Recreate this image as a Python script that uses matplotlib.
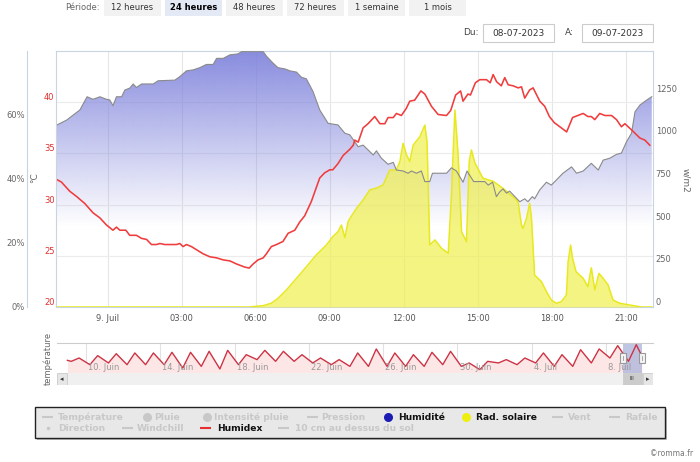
import numpy as np
import matplotlib
matplotlib.use('Agg')
import matplotlib.pyplot as plt
import matplotlib.transforms as mtransforms
from matplotlib.patches import Rectangle

plt.rcParams['font.family'] = ['DejaVu Sans']

# ---- main chart data, hours from 9 Juil 00:00 ----
hum_hours = [-2.11, -1.67, -1.13, -0.84, -0.6, -0.32, -0.05, 0.08, 0.21, 0.35,
             0.56, 0.69, 0.89, 1.03, 1.16, 1.37, 1.84, 2.04, 2.72, 2.92,
             3.19, 3.46, 3.73, 4.0, 4.27, 4.41, 4.68, 4.95, 5.28, 5.42,
             6.3, 6.43, 6.7, 6.9, 7.18, 7.38, 7.65, 7.85, 8.05, 8.32,
             8.59, 8.93, 9.33, 9.61, 9.81, 10.15, 10.35, 10.76, 10.89, 11.09,
             11.36, 11.57, 11.7, 11.97, 12.17, 12.31, 12.51, 12.71, 12.85, 13.05,
             13.16, 13.73, 13.93, 14.13, 14.4, 14.56, 14.83, 15.28, 15.42, 15.6,
             15.75, 15.89, 16.02, 16.16, 16.29, 16.5, 16.7, 16.9, 17.03, 17.21,
             17.3, 17.51, 17.78, 17.98, 18.45, 18.8, 19.0, 19.27, 19.6, 19.88,
             20.08, 20.35, 20.62, 20.82, 21.03, 21.23, 21.37, 21.57, 21.85, 22.05]
hum_values = [56.7, 58.4, 61.6, 65.7, 64.9, 65.7, 64.9, 64.7, 62.9, 65.7,
              65.7, 67.8, 68.4, 69.7, 68.6, 69.7, 69.7, 70.7, 70.9, 72.0,
              73.8, 74.1, 74.8, 75.8, 75.8, 77.7, 77.7, 78.8, 79.1, 79.8,
              79.8, 78.4, 76.2, 74.8, 74.4, 73.8, 73.4, 71.8, 71.3, 67.3,
              61.6, 57.4, 56.9, 54.3, 53.8, 50.1, 50.6, 47.5, 48.8, 46.5,
              44.6, 45.2, 42.8, 42.5, 41.8, 42.5, 41.8, 42.5, 39.2, 39.2,
              41.8, 41.8, 43.5, 42.5, 39.0, 42.5, 39.2, 39.2, 38.1, 39.0,
              34.5, 36.0, 36.9, 35.6, 36.2, 34.5, 32.9, 33.8, 32.9, 34.5,
              33.8, 36.6, 39.0, 38.1, 41.8, 43.8, 41.8, 42.5, 44.9, 42.8,
              45.9, 46.5, 47.7, 48.1, 51.7, 54.3, 61.0, 63.1, 64.7, 65.7]

hx_hours = [-2.11, -1.88, -1.54, -1.27, -0.93, -0.6, -0.32, -0.05, 0.21, 0.35,
            0.49, 0.73, 0.89, 1.16, 1.37, 1.57, 1.77, 1.97, 2.11, 2.31,
            2.78, 2.92, 3.05, 3.19, 3.39, 3.59, 3.86, 4.14, 4.41, 4.68,
            4.95, 5.22, 5.55, 5.73, 5.89, 6.09, 6.3, 6.43, 6.63, 6.84,
            7.1, 7.31, 7.58, 7.78, 7.98, 8.25, 8.59, 8.79, 9.0, 9.12,
            9.33, 9.54, 9.81, 9.95, 10.01, 10.15, 10.35, 10.55, 10.82, 11.03,
            11.23, 11.36, 11.57, 11.7, 11.9, 12.1, 12.24, 12.44, 12.69, 12.85,
            13.12, 13.39, 13.73, 13.9, 14.1, 14.3, 14.4, 14.6, 14.7, 14.9,
            15.08, 15.35, 15.5, 15.62, 15.76, 15.95, 16.09, 16.23, 16.43, 16.63,
            16.77, 16.9, 17.1, 17.24, 17.51, 17.71, 17.9, 18.1, 18.38, 18.6,
            18.84, 19.05, 19.27, 19.46, 19.6, 19.74, 19.94, 20.15, 20.42, 20.62,
            20.82, 20.96, 21.23, 21.57, 21.77, 21.97]
hx_values = [32.5, 32.2, 31.3, 30.8, 30.1, 29.2, 28.7, 28.0, 27.5, 27.8,
             27.5, 27.5, 27.0, 27.0, 26.7, 26.6, 26.1, 26.1, 26.2, 26.1,
             26.1, 26.2, 25.9, 26.1, 25.9, 25.6, 25.2, 24.9, 24.8, 24.6,
             24.5, 24.2, 23.9, 23.8, 24.2, 24.6, 24.8, 25.2, 25.9, 26.1,
             26.4, 27.2, 27.5, 28.3, 28.9, 30.3, 32.6, 33.1, 33.4, 33.4,
             34.0, 34.8, 35.4, 35.8, 36.3, 36.1, 37.5, 37.9, 38.6, 37.9,
             37.9, 38.5, 38.5, 38.9, 38.7, 39.4, 40.1, 40.2, 41.1, 40.8,
             39.6, 38.8, 38.7, 39.2, 40.7, 41.1, 40.1, 40.8, 40.7, 41.9,
             42.2, 42.2, 41.9, 42.7, 42.0, 41.6, 42.4, 41.7, 41.6, 41.4,
             41.5, 40.4, 41.2, 41.4, 40.1, 39.6, 38.6, 38.0, 37.5, 37.1,
             38.5, 38.7, 38.9, 38.6, 38.6, 38.3, 38.9, 38.7, 38.7, 38.3,
             37.6, 37.9, 37.3, 36.5, 36.3, 35.8]

rad_hours = [-2.11, 5.73, 6.3, 6.63, 6.9, 7.24, 7.65, 8.05, 8.45, 8.86,
             9.12, 9.33, 9.47, 9.61, 9.74, 9.81, 10.08, 10.35, 10.62, 10.89,
             11.16, 11.43, 11.7, 11.84, 11.97, 12.11, 12.24, 12.38, 12.65, 12.85,
             12.94, 13.05, 13.26, 13.53, 13.8, 13.93, 14.07, 14.2, 14.34, 14.54,
             14.65, 14.74, 14.88, 15.21, 15.62, 16.02, 16.43, 16.63, 16.77, 16.83,
             16.97, 17.1, 17.17, 17.3, 17.44, 17.58, 17.78, 17.98, 18.18, 18.38,
             18.59, 18.66, 18.76, 18.84, 18.98, 19.27, 19.46, 19.6, 19.74, 19.91,
             20.08, 20.28, 20.48, 20.75, 21.3, 21.64, 22.05]
rad_values = [0, 0, 8, 22, 51, 100, 168, 236, 305, 363,
              412, 441, 480, 406, 500, 518, 578, 627, 686, 697,
              715, 803, 803, 852, 959, 891, 852, 949, 998, 1066,
              969, 363, 393, 344, 315, 656, 1154, 891, 441, 383,
              852, 920, 844, 754, 737, 695, 646, 617, 480, 460,
              518, 607, 530, 187, 168, 148, 90, 41, 22, 31,
              70, 266, 363, 285, 207, 168, 119, 230, 100, 197,
              168, 129, 41, 22, 8, 0, 0]

hour_ticks = [0, 3, 6, 9, 12, 15, 18, 21]
hour_labels = ['9. Juil', '03:00', '06:00', '09:00', '12:00', '15:00', '18:00', '21:00']
hum_ticks = [0, 20, 40, 60]
temp_ticks = [20, 25, 30, 35, 40]
rad_ticks = [0, 250, 500, 750, 1000, 1250]

# ---- navigator data: days from 10 Juin, daily humidex low / high ----
nav_days = list(range(-1, 30))
nav_low = [23.5, 19.4, 21.5, 19.4, 19.4, 19.4, 15.3, 17.3, 14.1, 19.4,
           25.6, 23.5, 23.5, 21.5, 19.4, 17.3, 17.3, 17.3, 17.3, 17.3,
           19.4, 17.3, 13.3, 21.5, 19.4, 21.5, 17.3, 17.3, 21.5, 27.6, 23.5]
nav_high = [27.6, 30.5, 32.9, 33.8, 33.8, 34.6, 34.6, 35.8, 37.0, 31.7,
            37.0, 35.8, 31.7, 27.6, 25.6, 33.8, 38.7, 33.8, 31.7, 34.6,
            35.8, 21.5, 23.5, 25.6, 27.6, 33.8, 31.7, 37.8, 38.7, 42.8, 44.0]
nav_first, nav_last = 24.7, 30.5
nav_tick_days = [0, 4, 8, 12, 16, 20, 24, 28]
nav_tick_labels = ['10. Juin', '14. Juin', '18. Juin', '22. Juin',
                   '26. Juin', '30. Juin', '4. Juil', '8. Juil']
sel_start, sel_end = 28.9, 29.92

periods = ['12 heures', '24 heures', '48 heures', '72 heures', '1 semaine', '1 mois']
selected_period = '24 heures'

W, H = 700, 462
fig = plt.figure(figsize=(W / 100, H / 100), dpi=100)


def box(x0, y0, x1, y1):
    return [x0 / W, 1 - y1 / H, (x1 - x0) / W, (y1 - y0) / H]


# ---- page furniture (buttons, dates, legend) in pixel coords ----
ui = fig.add_axes([0, 0, 1, 1])
ui.set_xlim(0, W)
ui.set_ylim(H, 0)
ui.axis('off')

ui.text(65, 7.5, 'Période:', fontsize=6, color='#666666', va='center')
for i, p in enumerate(periods):
    x0 = 104 + i * 61
    sel = p == selected_period
    ui.add_patch(Rectangle((x0, 0), 57, 16, fc='#e4e9f6' if sel else '#f2f2f2', ec='none'))
    ui.text(x0 + 28.5, 7.5, p, ha='center', va='center', fontsize=6,
            color='#000000' if sel else '#333333', fontweight='bold' if sel else 'normal')

ui.text(463, 32.5, 'Du:', fontsize=6.5, color='#444444', va='center')
ui.add_patch(Rectangle((483, 24), 71, 18, fc='white', ec='#cccccc', lw=0.8))
ui.text(518.5, 33, '08-07-2023', fontsize=6.5, color='#333333', ha='center', va='center')
ui.text(565, 32.5, 'A:', fontsize=6.5, color='#444444', va='center')
ui.add_patch(Rectangle((582, 24), 71, 18, fc='white', ec='#cccccc', lw=0.8))
ui.text(617.5, 33, '09-07-2023', fontsize=6.5, color='#333333', ha='center', va='center')

# legend box
ui.add_patch(Rectangle((37, 409), 630, 31, fc='#bbbbbb', ec='none'))
ui.add_patch(Rectangle((35, 407), 630, 31, fc='#e8e8e8', ec='#222222', lw=1))
off = '#c8c8c8'
legend_items = [
    # kind, x symbol, x text, y, label, color, active
    ('line', 42, 58, 417, 'Température', off, False),
    ('dot', 147, 154, 417, 'Pluie', off, False),
    ('dot', 207, 214, 417, 'Intensité pluie', off, False),
    ('line', 307, 321, 417, 'Pression', off, False),
    ('dot', 388, 398, 417, 'Humidité', '#1c1cb4', True),
    ('dot', 466, 476, 417, 'Rad. solaire', '#eeee10', True),
    ('line', 552, 568, 417, 'Vent', off, False),
    ('line', 609, 625, 417, 'Rafale', off, False),
    ('small', 48, 58, 428, 'Direction', off, False),
    ('line', 122, 137, 428, 'Windchill', off, False),
    ('line', 200, 217, 428, 'Humidex', '#e83030', True),
    ('line', 278, 295, 428, '10 cm au dessus du sol', off, False),
]
for kind, xs, xt, y, label, col, active in legend_items:
    if kind == 'line':
        ui.plot([xs, xs + 11], [y, y], color=col, lw=1.5, solid_capstyle='butt')
    elif kind == 'dot':
        ui.plot([xs], [y], 'o', color=col, ms=6.5, mec='none')
    else:
        ui.plot([xs], [y], 'o', color=col, ms=2.5, mec='none')
    ui.text(xt, y + 0.5, label, fontsize=6.6, fontweight='bold', va='center',
            color='#111111' if active else off)

ui.text(693, 453, '©romma.fr', fontsize=5.5, color='#777777', ha='right', va='center')
ui.text(35, 178, '°C', fontsize=6.5, color='#666666', rotation=90, ha='center', va='center')
ui.text(686, 180, 'w/m2', fontsize=6.5, color='#666666', rotation=270, ha='center', va='center')
ui.text(48, 358, 'température', fontsize=6, color='#666666', rotation=90, ha='center', va='center')

# ---- main chart ----
frame = '#c8d4e0'
ax_h = fig.add_axes(box(56, 51, 653, 307))
ax_r = ax_h.twinx()
ax_hl = ax_h.twinx()
ax_t = ax_h.twinx()

x0, x1 = -2.1, 22.1
ax_h.set_xlim(x0, x1)
ax_h.set_ylim(0, 80)

# grid lines (vertical on hours, horizontal on temperature ticks)
for h in hour_ticks:
    ax_h.axvline(h, color='#e6e6e6', lw=0.8, zorder=0)
for t in temp_ticks[1:]:
    ax_h.axhline((t - 20) / 25 * 80, color='#ececec', lw=0.8, zorder=0)

# humidity area with vertical gradient (lavender at top, fading to white)
n = 256
levels = np.linspace(0, 80, n)
grad = np.zeros((n, 1, 4))
grad[..., 0] = 126 / 255
grad[..., 1] = 130 / 255
grad[..., 2] = 219 / 255
grad[:, 0, 3] = 0.92 * np.clip((levels - 25) / (80 - 25), 0, 1)
poly = ax_h.fill_between(hum_hours, hum_values, 0, facecolor='none', edgecolor='none')
im = ax_h.imshow(grad, extent=[hum_hours[0], hum_hours[-1], 0, 80], origin='lower',
                 aspect='auto', zorder=1, interpolation='bilinear')
im.set_clip_path(poly.get_paths()[0], transform=ax_h.transData)
ax_h.set_xlim(x0, x1)
ax_h.set_ylim(0, 80)

ax_h.set_xticks(hour_ticks, hour_labels)
ax_h.set_yticks(hum_ticks, [f'{v}%' for v in hum_ticks])
ax_h.tick_params(axis='x', length=0, pad=5, labelsize=6, labelcolor='#555555')
ax_h.tick_params(axis='y', length=0, pad=1.5, labelsize=6, labelcolor='#666666')
plt.setp(ax_h.get_yticklabels(), va='bottom')
ax_h.spines['left'].set_position(('outward', 21))
for s in ax_h.spines.values():
    s.set_color(frame)
    s.set_linewidth(0.8)

# solar radiation
ax_r.fill_between(rad_hours, rad_values, 0, color=(0.94, 0.94, 0.31), alpha=0.7, lw=0)
ax_r.plot(rad_hours, rad_values, color='#e8e820', lw=1.1)
ax_r.set_ylim(0, 1500)
ax_r.set_yticks(rad_ticks, [str(v) for v in rad_ticks])
ax_r.tick_params(axis='y', length=0, pad=2, labelsize=6, labelcolor='#666666')
plt.setp(ax_r.get_yticklabels(), va='bottom')

# humidity line on top of radiation
ax_hl.plot(hum_hours, hum_values, color='#8a8a8a', lw=0.8)
ax_hl.set_ylim(0, 80)
ax_hl.set_yticks([])

# humidex
ax_t.plot(hx_hours, hx_values, color='#f03c3c', lw=1.15)
ax_t.set_ylim(20, 45)
ax_t.set_yticks(temp_ticks, [str(v) for v in temp_ticks])
ax_t.yaxis.set_ticks_position('left')
ax_t.tick_params(axis='y', length=0, pad=1, labelsize=6, labelcolor='#e03030')
plt.setp(ax_t.get_yticklabels(), va='bottom')

for a in (ax_r, ax_hl, ax_t):
    for s in a.spines.values():
        s.set_visible(False)
ax_t.spines['left'].set_visible(True)
ax_t.spines['left'].set_color(frame)
ax_t.spines['left'].set_linewidth(0.8)
ax_h.set_xlim(x0, x1)

# ---- navigator ----
nav_t = [nav_days[0]]
nav_v = [nav_first]
for d, lo, hi in zip(nav_days, nav_low, nav_high):
    nav_t += [d + 0.21, d + 0.63]
    nav_v += [lo, hi]
nav_t.append(sel_end)
nav_v.append(nav_last)

nx0, nx1 = -1.56, 30.53
ny0, ny1 = 9.15, 46.05
ax_n = fig.add_axes(box(57, 343, 653, 373))
for d in nav_tick_days:
    ax_n.axvline(d, color='#e2e2e2', lw=0.8, zorder=0)
ax_n.fill_between(nav_t, nav_v, ny0, color='#fde6e6', lw=0, zorder=1)
ax_n.axvspan(sel_start, sel_end, color='#aab4dc', alpha=0.75, lw=0, zorder=2)
ax_n.plot(nav_t, nav_v, color='#cc3344', lw=1, zorder=3)
ax_n.set_xlim(nx0, nx1)
ax_n.set_ylim(ny0, ny1)
ax_n.set_xticks([])
ax_n.set_yticks([])
for k, s in ax_n.spines.items():
    s.set_visible(k == 'top')
ax_n.spines['top'].set_color('#cccccc')
blend = mtransforms.blended_transform_factory(ax_n.transData, ax_n.transAxes)
for d, lab in zip(nav_tick_days, nav_tick_labels):
    ax_n.text(d + 0.12, 0.17, lab, transform=blend, fontsize=6, color='#999999',
              va='center', ha='left', zorder=4)
for xh in (sel_start, sel_end):
    ax_n.add_patch(Rectangle((xh - 0.16, 0.33), 0.32, 0.34, transform=blend,
                             fc='#f4f4f4', ec='#999999', lw=0.8, zorder=5, clip_on=False))
    ax_n.plot([xh, xh], [0.42, 0.58], transform=blend, color='#999999', lw=0.6,
              zorder=6, clip_on=False)

# scrollbar
ax_s = fig.add_axes(box(57, 373, 653, 385))
ax_s.set_facecolor('#f0f0f0')
ax_s.set_xlim(nx0, nx1)
ax_s.set_ylim(0, 1)
ax_s.set_xticks([])
ax_s.set_yticks([])
for s in ax_s.spines.values():
    s.set_visible(False)
bw = 10 / 596
ax_s.add_patch(Rectangle((0, 0), bw, 1, transform=ax_s.transAxes, fc='#e6e6e6', ec='#cccccc', lw=0.6))
ax_s.add_patch(Rectangle((1 - bw, 0), bw, 1, transform=ax_s.transAxes, fc='#e6e6e6', ec='#cccccc', lw=0.6))
ax_s.text(bw / 2, 0.5, '◂', transform=ax_s.transAxes, fontsize=5, color='#333333', ha='center', va='center')
ax_s.text(1 - bw / 2, 0.5, '▸', transform=ax_s.transAxes, fontsize=5, color='#333333', ha='center', va='center')
ax_s.add_patch(Rectangle((sel_start, 0.04), sel_end - sel_start, 0.92, fc='#cccccc', ec='#cccccc', lw=0.6))
ax_s.text((sel_start + sel_end) / 2, 0.5, 'III', fontsize=4, color='#333333', ha='center', va='center')

fig.savefig('out.png', dpi=100)
